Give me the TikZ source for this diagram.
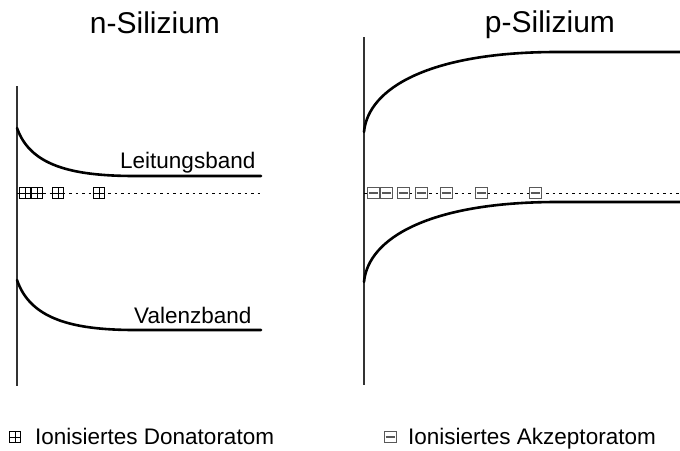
\documentclass[tikz,border=0pt]{standalone}
\usepackage{fontspec}
\setmainfont{Liberation Sans}
\usetikzlibrary{positioning}

\begin{document}
\begin{tikzpicture}[x=1pt,y=-1pt,
        title/.style={font=\fontsize{30}{36}\selectfont,inner sep=0pt,anchor=base},
        lbl/.style={font=\fontsize{22.5}{27}\selectfont,inner sep=0pt,anchor=base west},
        axis/.style={line width=1.2pt,black!80},
        band/.style={line width=2.6pt,line cap=round},
        fermi/.style={line width=1pt,dash pattern=on 2.5pt off 4pt},
        donor/.style={draw,line width=0.8pt,fill=white,inner sep=0pt,minimum size=11pt,
                      path picture={\draw[line width=0.8pt]
                        (path picture bounding box.north)--(path picture bounding box.south)
                        (path picture bounding box.west)--(path picture bounding box.east);}},
        acceptor/.style={draw=black!65,line width=0.9pt,fill=white,inner sep=0pt,
                         minimum width=12pt,minimum height=11pt,
                         path picture={\draw[line width=2.6pt]
                           ([xshift=1.5pt]path picture bounding box.west)--
                           ([xshift=-1.5pt]path picture bounding box.east);}}]
        \useasboundingbox (0,0) rectangle (680,450);

        % titles
        \node[title] (ntitle) at (155,33) {n-Silizium};
        \node[title] (ptitle) at (550,32) {p-Silizium};

        % n-Silizium
        \draw[axis] (17,86) -- (17,386);
        \draw[band] (17,128) .. controls (30,165) and (70,176) .. (135,176) -- (261,176);
        \draw[band] (17,280) .. controls (30,318) and (70,330) .. (135,330) -- (261,330);
        \node[lbl] (lband) at (120,168) {Leitungsband};
        \node[lbl] (vband) at (134,323) {Valenzband};
        \draw[fermi] (17,193) -- (261,193);
        \foreach \x [count=\i] in {25,37,58,99}
          \node[donor] (d\i) at (\x,193) {};

        % p-Silizium
        \draw[axis] (364,37) -- (364,385);
        \draw[band] (364,132) .. controls (368,88) and (430,52) .. (557,52) -- (680,52);
        \draw[band] (364,282) .. controls (368,238) and (430,202) .. (557,202) -- (680,202);
        \draw[fermi] (364,193) -- (680,193);
        \foreach \x [count=\i] in {373,386,403,421,446,481,535}
          \node[acceptor] (a\i) at (\x,193) {};

        % legend
        \node[donor] (ldonor) at (15,437) {};
        \node[lbl] (ltext) at (35,444) {Ionisiertes Donatoratom};
        \node[acceptor] (lacc) at (390,437) {};
        \node[lbl] (rtext) at (408,444) {Ionisiertes Akzeptoratom};
      \end{tikzpicture}
\end{document}
